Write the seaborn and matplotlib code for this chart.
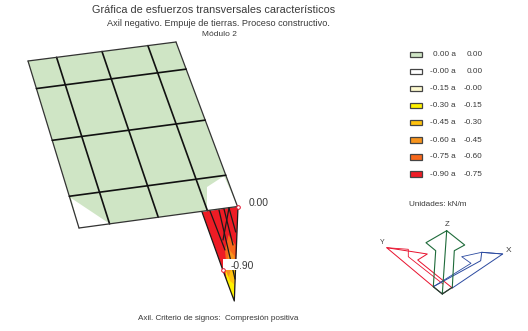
import matplotlib
matplotlib.use("Agg")
import matplotlib.pyplot as plt
import numpy as np
import pandas as pd
import seaborn as sns
from matplotlib.patches import Polygon, Rectangle

sns.set_theme(style="white")
plt.rcParams['font.family'] = ['Liberation Sans', 'DejaVu Sans']

TEXT = "#3a3a3a"
# plate (pixel-space drawing units)
corner_x = [28, 176, 237.5, 79]
corner_y = [61, 42, 206.5, 228]
long_frac = [0, 0.193, 0.50, 0.81, 1]
trans_frac = [0, 0.165, 0.475, 0.81, 1]
plate_color = "#cfe5c5"
white_a_x = [71, 110, 79]
white_a_y = [198, 224, 228]
white_b_x = [207, 224, 237.5, 207]
white_b_y = [187, 176, 206.5, 210]

# diagram bands
bands = [
    ([202, 238, 234.3, 222.7], [212, 206.7, 301, 269.7], "#ee1c25"),
    ([228.5, 235.5, 235.2, 226, 225], [235, 245, 262, 262, 250], "#f7681c"),
    ([229.5, 234.5, 234.5, 227], [250, 256, 262, 262], "#f7941d"),
    ([225, 235, 234.3, 227.3], [270, 270, 301, 282.5], "#fff200"),
    ([225.5, 235, 234.8, 230], [270, 270, 285, 281], "#ffc20e"),
    ([225.5, 231, 228.5], [270, 270, 277], "#f7941d"),
]
seg_x = [[210, 225], [219, 235], [224, 233], [229, 223], [229, 235.7]]
seg_y = [[211, 250], [210, 279], [209, 245], [208, 240], [208, 232]]
edge_x = [202, 222.7, 234.3, 238]
edge_y = [212, 269.7, 301, 206.7]

legend_from = ["0.00", "-0.00", "-0.15", "-0.30", "-0.45", "-0.60", "-0.75", "-0.90"]
legend_to = ["0.00", "0.00", "-0.00", "-0.15", "-0.30", "-0.45", "-0.60", "-0.75"]
legend_colors = ["#cfe5c5", "#ffffff", "#fdf9cf", "#fff200", "#ffc20e", "#f7941d", "#f7681c", "#ee1c25"]
legend_y = [54.3, 71.3, 88.3, 105.7, 122.7, 140, 157, 174]

marker_x = [237.5, 222.7]
marker_y = [206.5, 269.7]
marker_labels = ["0.00", "-0.90"]

# axes arrows
arrow_z_x = [442.3, 446.7, 426, 435.7, 433.3, 442.3, 452.3, 454.3, 464.7, 446.7]
arrow_z_y = [294, 230.7, 242.7, 250.7, 286.7, 294, 287.3, 250.7, 245, 230.7]
arrow_y_x = [433.3, 386.7, 427.3, 417.7, 452.3]
arrow_y_y = [286.7, 247.7, 254, 260, 288]
arrow_y2_x = [386.7, 408.3, 408.3, 443]
arrow_y2_y = [247.7, 249.3, 256.7, 284]
arrow_x_x = [452.3, 502.7, 481.7, 480.7, 433.3]
arrow_x_y = [288, 254, 252.3, 260.7, 286.7]
arrow_x2_x = [502.7, 481.7, 461.7, 471, 433.3]
arrow_x2_y = [254, 252.3, 256.7, 263.3, 286.7]
arrow_b_x = [433.3, 442.3, 452.3]
arrow_b_y = [286.7, 294, 287.3]

fig = plt.figure(figsize=(5.28, 3.31), dpi=100)
ax = fig.add_axes([0, 0, 1, 1])

def pt(u, v):
    top = np.array([corner_x[0], corner_y[0]]) + u * np.array([corner_x[1]-corner_x[0], corner_y[1]-corner_y[0]])
    bot = np.array([corner_x[3], corner_y[3]]) + u * np.array([corner_x[2]-corner_x[3], corner_y[2]-corner_y[3]])
    return top + v * (bot - top)

ax.add_patch(Polygon(list(zip(corner_x, corner_y)), fc=plate_color, ec="none"))
ax.add_patch(Polygon(list(zip(white_a_x, white_a_y)), fc="white", ec="none"))
ax.add_patch(Polygon(list(zip(white_b_x, white_b_y)), fc="white", ec="none"))
for bx, by, c in bands:
    ax.add_patch(Polygon(list(zip(bx, by)), fc=c, ec="none"))

for u in long_frac:
    p = np.array([pt(u, 0), pt(u, 1)])
    inner = 0 < u < 1
    ax.plot(p[:, 0], p[:, 1], color="#111111" if inner else "#333333", lw=1.2 if inner else 0.9)
for v in trans_frac:
    p = np.array([pt(0, v), pt(1, v)])
    inner = 0 < v < 1
    ax.plot(p[:, 0], p[:, 1], color="#111111" if inner else "#333333", lw=1.2 if inner else 0.9)
for sx, sy in zip(seg_x, seg_y):
    ax.plot(sx, sy, color="#1a1a1a", lw=0.9)
ax.plot(edge_x, edge_y, color="#1a1a1a", lw=0.9)

# value labels
ax.add_patch(Rectangle((223, 259), 32, 11, fc="white", ec="none", zorder=3))
sns.scatterplot(data=pd.DataFrame({"x": marker_x, "y": marker_y}), x="x", y="y", ax=ax, s=7,
                facecolor="white", edgecolor="#e8112d", linewidth=0.7, zorder=4, legend=False)
ax.set_xlim(0, 528)
ax.set_ylim(331, 0)
ax.axis("off")
ax.text(249, 202.5, marker_labels[0], fontsize=7.4, color=TEXT, va="center", ha="left", zorder=5)
ax.text(231, 265.7, marker_labels[1], fontsize=7.4, color=TEXT, va="center", ha="left", zorder=5)

# titles
ax.text(214, 10, "Gráfica de esfuerzos transversales característicos", fontsize=7.8, color=TEXT, ha="center", va="center")
ax.text(218.5, 24, "Axil negativo. Empuje de tierras. Proceso constructivo.", fontsize=6.6, color=TEXT, ha="center", va="center")
ax.text(219, 35, "Módulo 2", fontsize=6.0, color=TEXT, ha="center", va="center")
ax.text(218.5, 318, "Axil. Criterio de signos:  Compresión positiva", fontsize=5.9, color=TEXT, ha="center", va="center")

# legend
for lf, lt, c, y in zip(legend_from, legend_to, legend_colors, legend_y):
    ax.add_patch(Rectangle((409.5, y - 2.6), 12.3, 5.2, fc=c, ec="#444444", lw=0.9))
    ax.text(455.7, y, lf + " a", fontsize=5.9, color=TEXT, ha="right", va="center")
    ax.text(482.6, y, lt, fontsize=5.9, color=TEXT, ha="right", va="center")

ax.text(438, 204, "Unidades: kN/m", fontsize=5.9, color=TEXT, ha="center", va="center")
ax.text(447, 224, "Z", fontsize=5.6, color=TEXT, ha="center", va="center")
ax.text(381.7, 243, "Y", fontsize=5, color=TEXT, ha="center", va="center")
ax.text(508.7, 251, "X", fontsize=6, color=TEXT, ha="center", va="center")

ax.plot(arrow_y_x, arrow_y_y, color="#e8112d", lw=0.7)
ax.plot(arrow_y2_x, arrow_y2_y, color="#e8112d", lw=0.6)
ax.plot(arrow_x_x, arrow_x_y, color="#2b4aa0", lw=0.7)
ax.plot(arrow_x2_x, arrow_x2_y, color="#2b4aa0", lw=0.6)
ax.plot(arrow_z_x, arrow_z_y, color="#1e6b3a", lw=0.8)
ax.plot(arrow_b_x, arrow_b_y, color="#333333", lw=0.8)

fig.savefig("out.png", dpi=100)
